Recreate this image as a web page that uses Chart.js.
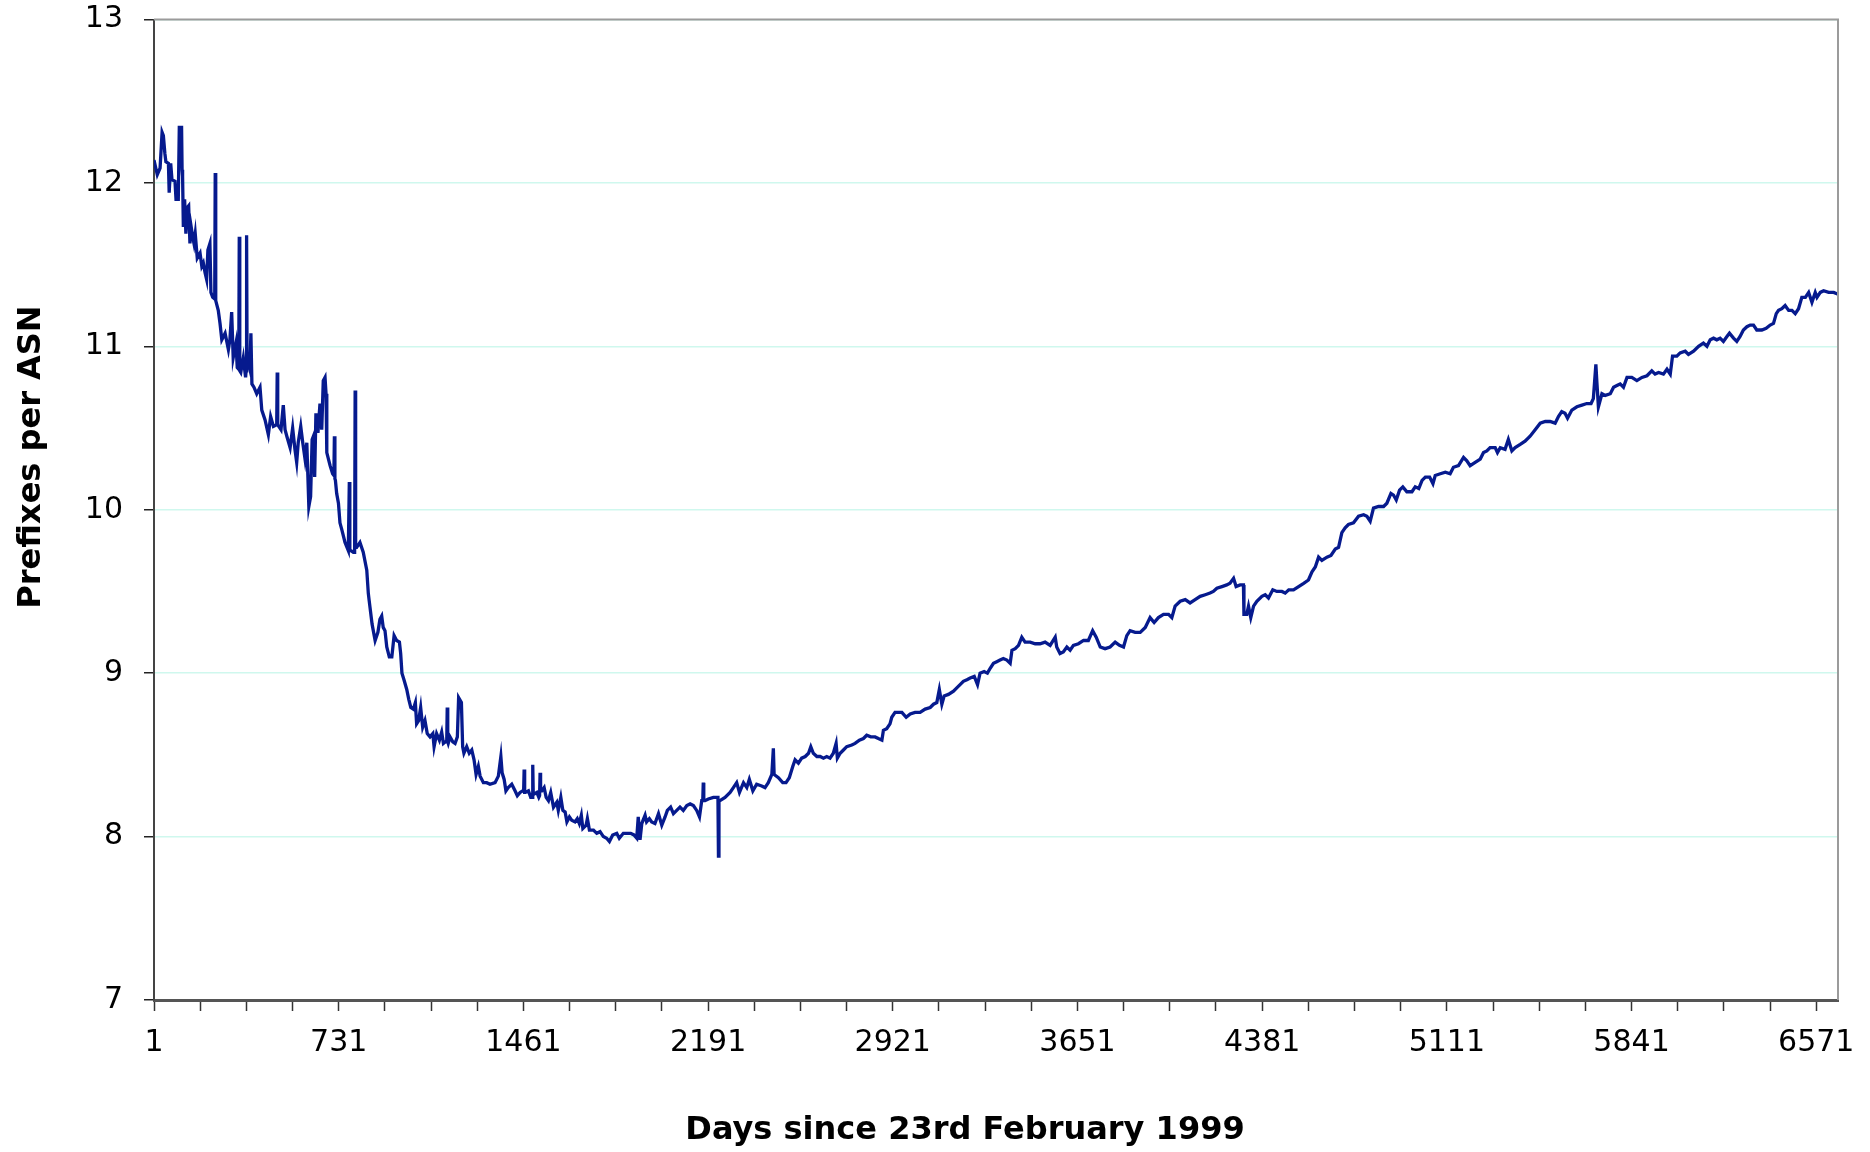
<!DOCTYPE html>
<html lang="en">
<head>
  <meta charset="UTF-8">
  <title>Prefixes per ASN</title>
  <script src="https://cdn.jsdelivr.net/npm/chart.js"></script>
  <style>
    body { margin: 0; background: #fff; }
    #wrap { width: 1870px; height: 1152px; }
  </style>
</head>
<body>
  <div id="wrap"><canvas id="chart" width="1870" height="1152"></canvas></div>

  <script>
    // days since 23rd February 1999 (day 1) and prefixes per ASN
    const days = [
      1, 14, 25, 33, 38, 44, 48, 58, 61, 67, 72, 84, 88, 97, 101, 110, 112, 114, 117, 122,
      127, 133, 138, 143, 148, 154, 159, 164, 172, 183, 190, 196, 203, 209, 214, 222, 226, 233, 241, 243,
      245, 255, 262, 269, 282, 295, 301, 308, 314, 325, 330, 336, 338, 340, 344, 354, 363, 365, 367, 369,
      374, 380, 384, 388, 396, 407, 420, 427, 440, 453, 462, 473, 486, 488, 490, 503, 512, 519, 526, 539,
      549, 558, 565, 571, 581, 589, 598, 605, 613, 620, 626, 631, 636, 641, 649, 657, 664, 670, 677, 681,
      684, 697, 707, 712, 714, 716, 718, 723, 730, 736, 743, 756, 769, 773, 775, 779, 789, 794, 796, 798,
      802, 815, 828, 842, 848, 851, 863, 875, 886, 894, 901, 907, 914, 921, 931, 941, 950, 960, 971, 976,
      981, 989, 1000, 1008, 1016, 1026, 1034, 1039, 1047, 1055, 1063, 1072, 1081, 1092, 1103, 1108, 1118, 1129, 1138, 1145,
      1153, 1158, 1160, 1162, 1164, 1171, 1182, 1191, 1200, 1205, 1216, 1221, 1226, 1237, 1247, 1257, 1266, 1274, 1283, 1290,
      1303, 1316, 1329, 1349, 1362, 1372, 1377, 1385, 1392, 1401, 1415, 1428, 1437, 1448, 1458, 1462, 1464, 1466, 1469, 1481,
      1490, 1496, 1498, 1500, 1503, 1514, 1522, 1525, 1527, 1529, 1534, 1543, 1551, 1560, 1569, 1580, 1593, 1599, 1609, 1617,
      1626, 1633, 1643, 1652, 1665, 1674, 1682, 1690, 1696, 1709, 1714, 1722, 1738, 1751, 1764, 1777, 1790, 1801, 1814, 1830,
      1840, 1856, 1870, 1885, 1898, 1909, 1915, 1922, 1929, 1942, 1948, 1959, 1968, 1981, 1995, 2008, 2021, 2030, 2043, 2054,
      2067, 2080, 2093, 2107, 2120, 2133, 2146, 2157, 2166, 2170, 2172, 2174, 2179, 2192, 2212, 2225, 2230, 2232, 2234, 2238,
      2258, 2278, 2291, 2304, 2315, 2331, 2344, 2354, 2368, 2383, 2403, 2416, 2429, 2443, 2449, 2452, 2469, 2486, 2499, 2512,
      2526, 2535, 2548, 2561, 2575, 2588, 2597, 2607, 2621, 2634, 2647, 2660, 2673, 2686, 2697, 2702, 2713, 2726, 2739, 2759,
      2772, 2789, 2805, 2818, 2834, 2851, 2864, 2878, 2884, 2897, 2910, 2917, 2930, 2943, 2957, 2974, 2990, 3009, 3029, 3049,
      3069, 3082, 3095, 3105, 3115, 3124, 3141, 3161, 3174, 3187, 3200, 3214, 3227, 3243, 3256, 3266, 3282, 3295, 3306, 3319,
      3332, 3345, 3358, 3372, 3385, 3392, 3405, 3418, 3431, 3444, 3464, 3484, 3503, 3523, 3543, 3563, 3569, 3582, 3595, 3609,
      3622, 3635, 3655, 3675, 3694, 3711, 3725, 3741, 3760, 3780, 3800, 3817, 3833, 3846, 3859, 3879, 3899, 3919, 3938, 3954,
      3971, 3991, 4011, 4024, 4037, 4057, 4077, 4096, 4116, 4136, 4156, 4175, 4188, 4202, 4222, 4241, 4254, 4268, 4278, 4294,
      4307, 4309, 4320, 4327, 4336, 4347, 4360, 4380, 4393, 4406, 4423, 4439, 4459, 4472, 4486, 4505, 4525, 4545, 4564, 4578,
      4591, 4604, 4617, 4637, 4653, 4670, 4683, 4696, 4709, 4722, 4742, 4762, 4782, 4795, 4808, 4821, 4841, 4861, 4874, 4890,
      4900, 4911, 4924, 4937, 4953, 4973, 4986, 5000, 5013, 5026, 5043, 5056, 5065, 5085, 5105, 5124, 5137, 5157, 5177, 5190,
      5203, 5223, 5243, 5256, 5269, 5282, 5302, 5311, 5322, 5341, 5354, 5368, 5381, 5401, 5420, 5440, 5460, 5480, 5500, 5519,
      5539, 5552, 5565, 5578, 5588, 5605, 5625, 5645, 5664, 5681, 5690, 5700, 5704, 5710, 5724, 5737, 5757, 5770, 5783, 5796,
      5809, 5823, 5842, 5862, 5882, 5902, 5921, 5934, 5948, 5967, 5981, 5994, 6003, 6020, 6033, 6053, 6066, 6086, 6106, 6125,
      6139, 6152, 6165, 6178, 6191, 6204, 6218, 6228, 6244, 6257, 6270, 6283, 6297, 6310, 6323, 6336, 6356, 6373, 6389, 6402,
      6413, 6422, 6435, 6448, 6462, 6475, 6488, 6501, 6514, 6528, 6541, 6554, 6567, 6574, 6587, 6600, 6620, 6640, 6655
    ];
    const prefixesPerAsn = [
      12.14, 12.05, 12.09, 12.31, 12.29, 12.18, 12.13, 12.12, 11.94, 12.12, 12.02, 12.01, 11.90, 11.90, 12.34, 12.34, 12.08, 12.04, 11.73, 11.90,
      11.69, 11.85, 11.86, 11.63, 11.73, 11.67, 11.63, 11.69, 11.54, 11.57, 11.49, 11.51, 11.45, 11.41, 11.59, 11.63, 11.33, 11.30, 11.29, 12.06,
      11.28, 11.22, 11.14, 11.04, 11.08, 10.98, 11.04, 11.21, 10.93, 11.02, 10.87, 10.86, 11.67, 10.85, 10.84, 10.93, 10.81, 10.85, 11.68, 10.88,
      10.90, 10.86, 11.08, 10.77, 10.75, 10.71, 10.75, 10.61, 10.55, 10.46, 10.57, 10.51, 10.52, 10.84, 10.52, 10.49, 10.64, 10.49, 10.45, 10.38,
      10.50, 10.37, 10.29, 10.41, 10.51, 10.41, 10.31, 10.41, 10.02, 10.08, 10.43, 10.45, 10.20, 10.59, 10.47, 10.65, 10.49, 10.79, 10.81, 10.71,
      10.35, 10.27, 10.22, 10.21, 10.45, 10.19, 10.18, 10.10, 10.04, 9.92, 9.88, 9.80, 9.75, 10.17, 9.75, 9.75, 9.74, 9.74, 10.73, 9.77,
      9.77, 9.80, 9.74, 9.63, 9.49, 9.45, 9.30, 9.20, 9.25, 9.33, 9.35, 9.28, 9.26, 9.16, 9.10, 9.10, 9.23, 9.20, 9.19, 9.12,
      9.00, 8.96, 8.90, 8.84, 8.79, 8.78, 8.82, 8.69, 8.71, 8.79, 8.67, 8.71, 8.63, 8.61, 8.63, 8.55, 8.63, 8.59, 8.64, 8.57,
      8.58, 8.58, 8.79, 8.58, 8.57, 8.61, 8.58, 8.57, 8.61, 8.85, 8.82, 8.55, 8.51, 8.55, 8.51, 8.53, 8.47, 8.38, 8.43, 8.37,
      8.33, 8.33, 8.32, 8.33, 8.37, 8.49, 8.39, 8.35, 8.28, 8.30, 8.32, 8.28, 8.25, 8.27, 8.28, 8.28, 8.41, 8.27, 8.27, 8.28,
      8.24, 8.24, 8.44, 8.26, 8.26, 8.27, 8.24, 8.25, 8.39, 8.28, 8.28, 8.30, 8.24, 8.22, 8.27, 8.18, 8.21, 8.16, 8.24, 8.16,
      8.15, 8.09, 8.12, 8.10, 8.09, 8.11, 8.08, 8.13, 8.05, 8.07, 8.11, 8.04, 8.04, 8.02, 8.03, 8.00, 7.99, 7.97, 8.01, 8.02,
      7.99, 8.02, 8.02, 8.02, 8.01, 7.99, 8.12, 7.98, 8.08, 8.13, 8.09, 8.11, 8.09, 8.08, 8.14, 8.07, 8.12, 8.16, 8.18, 8.14,
      8.16, 8.18, 8.16, 8.19, 8.20, 8.19, 8.16, 8.12, 8.22, 8.22, 8.33, 8.22, 8.22, 8.23, 8.24, 8.24, 8.24, 7.88, 8.22, 8.22,
      8.24, 8.27, 8.30, 8.33, 8.27, 8.33, 8.30, 8.35, 8.28, 8.32, 8.31, 8.30, 8.33, 8.38, 8.54, 8.38, 8.36, 8.33, 8.33, 8.36,
      8.43, 8.47, 8.45, 8.48, 8.49, 8.51, 8.55, 8.51, 8.49, 8.49, 8.48, 8.49, 8.48, 8.51, 8.57, 8.48, 8.51, 8.53, 8.55, 8.56,
      8.57, 8.59, 8.60, 8.62, 8.61, 8.61, 8.60, 8.59, 8.65, 8.66, 8.69, 8.73, 8.76, 8.76, 8.76, 8.73, 8.75, 8.76, 8.76, 8.78,
      8.79, 8.81, 8.82, 8.90, 8.81, 8.86, 8.87, 8.89, 8.91, 8.93, 8.95, 8.96, 8.97, 8.98, 8.93, 9.00, 9.01, 9.00, 9.03, 9.06,
      9.07, 9.08, 9.09, 9.08, 9.06, 9.14, 9.15, 9.17, 9.22, 9.19, 9.19, 9.18, 9.18, 9.19, 9.17, 9.22, 9.16, 9.12, 9.13, 9.16,
      9.14, 9.17, 9.18, 9.20, 9.20, 9.26, 9.22, 9.16, 9.15, 9.16, 9.19, 9.17, 9.16, 9.23, 9.26, 9.25, 9.25, 9.28, 9.34, 9.31,
      9.34, 9.36, 9.36, 9.34, 9.41, 9.44, 9.45, 9.43, 9.45, 9.47, 9.48, 9.49, 9.50, 9.52, 9.53, 9.54, 9.55, 9.58, 9.53, 9.54,
      9.54, 9.36, 9.36, 9.41, 9.34, 9.41, 9.44, 9.47, 9.48, 9.46, 9.51, 9.50, 9.50, 9.49, 9.51, 9.51, 9.53, 9.55, 9.57, 9.62,
      9.65, 9.71, 9.69, 9.71, 9.72, 9.76, 9.77, 9.86, 9.89, 9.91, 9.92, 9.96, 9.97, 9.96, 9.93, 10.01, 10.02, 10.02, 10.04, 10.10,
      10.09, 10.06, 10.12, 10.14, 10.11, 10.11, 10.14, 10.13, 10.18, 10.20, 10.20, 10.16, 10.21, 10.22, 10.23, 10.22, 10.26, 10.27, 10.32, 10.30,
      10.27, 10.29, 10.31, 10.35, 10.36, 10.38, 10.38, 10.35, 10.38, 10.37, 10.43, 10.36, 10.38, 10.40, 10.42, 10.45, 10.49, 10.53, 10.54, 10.54,
      10.53, 10.57, 10.60, 10.59, 10.56, 10.61, 10.63, 10.64, 10.65, 10.65, 10.68, 10.89, 10.78, 10.63, 10.71, 10.70, 10.71, 10.75, 10.76, 10.77,
      10.75, 10.81, 10.81, 10.79, 10.81, 10.82, 10.85, 10.83, 10.84, 10.83, 10.86, 10.83, 10.94, 10.94, 10.96, 10.97, 10.95, 10.97, 11.00, 11.02,
      11.00, 11.04, 11.05, 11.04, 11.05, 11.03, 11.06, 11.08, 11.05, 11.03, 11.06, 11.10, 11.12, 11.13, 11.13, 11.10, 11.10, 11.11, 11.13, 11.14,
      11.20, 11.22, 11.23, 11.25, 11.22, 11.22, 11.20, 11.23, 11.30, 11.30, 11.33, 11.27, 11.33, 11.30, 11.33, 11.34, 11.33, 11.33, 11.32
    ];

    const xTickLabels = [1, 731, 1461, 2191, 2921, 3651, 4381, 5111, 5841, 6571];
    const xMinorStep = 182.5;
    const xMax = 6657;
    const yMin = 7, yMax = 13;

    const xTitle = 'Days since 23rd February 1999';
    const yTitle = 'Prefixes per ASN';

    const font = '"DejaVu Sans", Verdana, sans-serif';

    // frame on top/right and the two axis titles
    const frameAndTitles = {
      id: 'frameAndTitles',
      afterDraw(chart) {
        const ctx = chart.ctx;
        const a = chart.chartArea;
        ctx.save();
        ctx.strokeStyle = '#9b9b9b';
        ctx.lineWidth = 2;
        ctx.beginPath();
        ctx.moveTo(a.left, a.top);
        ctx.lineTo(a.right, a.top);
        ctx.lineTo(a.right, a.bottom);
        ctx.stroke();

        ctx.fillStyle = '#000';
        ctx.font = 'bold 32px ' + font;
        ctx.textAlign = 'center';
        ctx.textBaseline = 'middle';
        ctx.fillText(xTitle, 965, 1131);
        ctx.translate(32, 457);
        ctx.rotate(-Math.PI / 2);
        ctx.fillText(yTitle, 0, 0);
        ctx.restore();
      }
    };

    new Chart(document.getElementById('chart'), {
      type: 'line',
      data: {
        datasets: [{
          label: yTitle,
          data: days.map((d, i) => ({ x: d, y: prefixesPerAsn[i] })),
          borderColor: '#061a8e',
          borderWidth: 3.3,
          pointRadius: 0,
          tension: 0,
          fill: false
        }]
      },
      options: {
        responsive: false,
        animation: false,
        devicePixelRatio: 1,
        layout: { padding: { left: 0, right: 32, top: 19.5, bottom: 0 } },
        plugins: {
          legend: { display: false },
          tooltip: { enabled: false }
        },
        scales: {
          x: {
            type: 'linear',
            min: 1,
            max: xMax,
            afterBuildTicks: scale => {
              const ticks = [];
              for (let v = xTickLabels[0]; v <= xTickLabels[xTickLabels.length - 1]; v += xMinorStep) {
                ticks.push({ value: v });
              }
              scale.ticks = ticks;
            },
            afterFit: scale => { scale.height = 152; },
            ticks: {
              autoSkip: false,
              maxRotation: 0,
              padding: 14,
              color: '#000',
              font: { family: font, size: 30 },
              callback: v => xTickLabels.includes(v) ? String(v) : ''
            },
            grid: {
              drawOnChartArea: false,
              drawTicks: true,
              tickLength: 11,
              tickColor: '#333',
              tickWidth: 1.5
            },
            border: { color: '#555', width: 3 }
          },
          y: {
            min: yMin,
            max: yMax,
            afterFit: scale => {
              scale.width = 154;
              scale.paddingTop = 0;
              scale.paddingBottom = 0;
            },
            ticks: {
              stepSize: 1,
              padding: 21,
              color: '#000',
              font: { family: font, size: 30 }
            },
            grid: {
              color: '#cff8ee',
              lineWidth: 1.5,
              drawTicks: true,
              tickLength: 10,
              tickColor: '#222',
              tickWidth: 1.5
            },
            border: { color: '#444', width: 2 }
          }
        }
      },
      plugins: [frameAndTitles]
    });
  </script>
</body>
</html>
